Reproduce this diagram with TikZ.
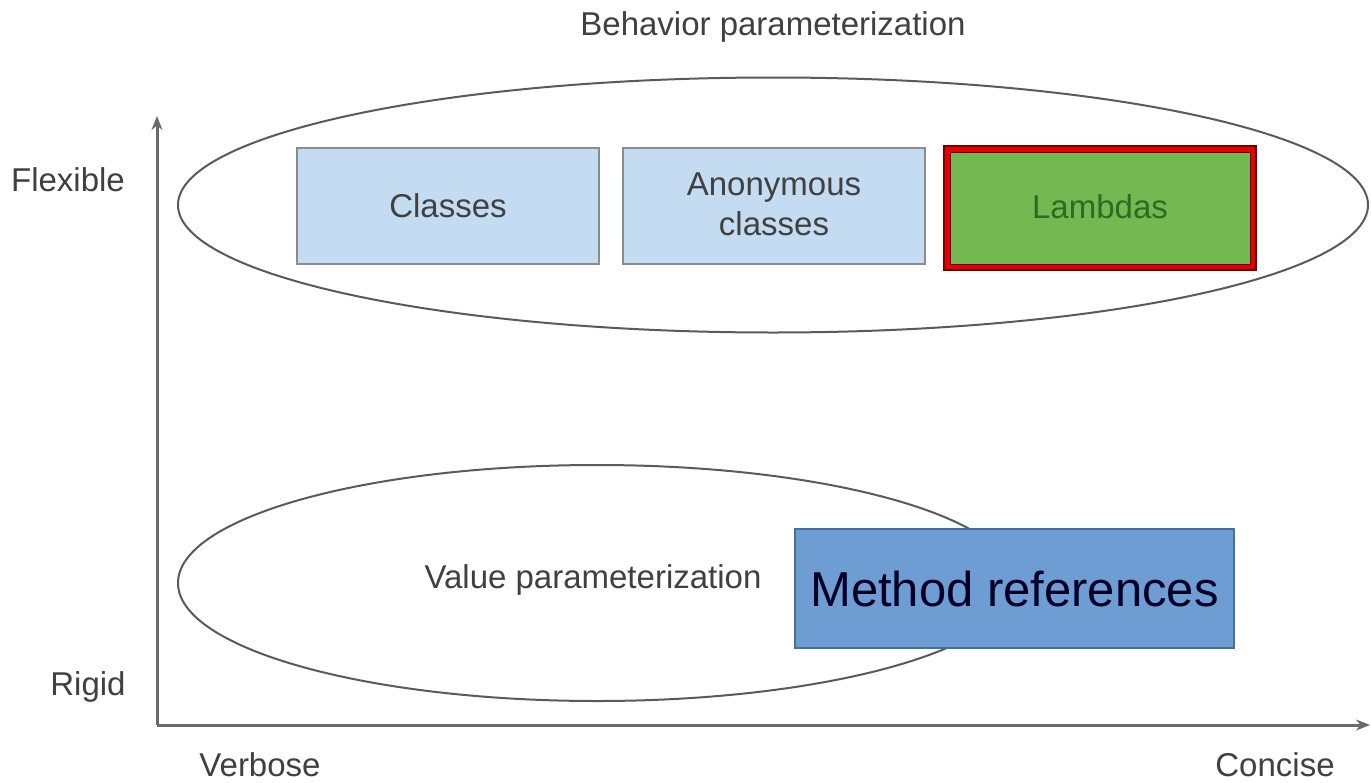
\documentclass[tikz,border=0pt]{standalone}
\usepackage{fontspec}
\setmainfont{Liberation Sans}
\usetikzlibrary{shapes.geometric,arrows.meta,calc}
\definecolor{labelgray}{HTML}{404040}
\definecolor{axisgray}{HTML}{6A6A6A}
\definecolor{ringgray}{HTML}{5A5A5A}
\definecolor{paleblue}{HTML}{C3DCF2}
\definecolor{paleedge}{HTML}{8C8C8C}
\definecolor{midblue}{HTML}{6E9DD3}
\definecolor{midedge}{HTML}{41719C}
\definecolor{leafgreen}{HTML}{74B852}
\definecolor{darkgreen}{HTML}{2E6A22}
\definecolor{hotred}{HTML}{E80000}
\definecolor{deepred}{HTML}{700000}
\tikzset{
  lbl/.style={text=labelgray, font=\fontsize{33}{40}\selectfont, inner sep=0pt},
  ring/.style={ellipse, draw=ringgray, line width=2pt, inner sep=0pt},
  softbox/.style={rectangle, draw=paleedge, fill=paleblue, line width=2pt,
    minimum width=302pt, minimum height=116pt, inner sep=0pt,
    text=labelgray, font=\fontsize{33}{40}\selectfont, align=center},
  axisline/.style={draw=axisgray, line width=3pt, -{Stealth[length=14pt,width=11pt]}},
}
\begin{document}
\begin{tikzpicture}[x=1pt, y=-1pt]
\useasboundingbox (0,0) rectangle (1371,782);

% axes
\coordinate (origin) at (157,725);
\coordinate (ytop) at (157,116);
\coordinate (xend) at (1370,725);
\draw[axisline] (origin) -- (ytop);
\draw[axisline] (origin) -- (xend);

% axis labels
\node[lbl] (behav) at (773,27) {Behavior parameterization};
\node[lbl] (flex) at (68,180) {Flexible};
\node[lbl] (rigid) at (88,687) {Rigid};
\node[lbl] (verb) at (260,765) {Verbose};
\node[lbl] (conc) at (1275,765) {Concise};

% behavior parameterization group
\node[ring, minimum width=1190pt, minimum height=255pt] (top) at (773,205) {};
\node[softbox] (classes) at (448,206) {Classes};
\node[softbox] (anon) at (774,206) {};
\node[text=labelgray, font=\fontsize{33}{40}\selectfont, align=center, inner sep=0pt]
  (anontext) at (774,204) {Anonymous\\[0pt]classes};
\node[rectangle, draw=hotred, line width=6pt, fill=leafgreen, outer sep=0pt,
      minimum width=306pt, minimum height=118pt, inner sep=0pt,
      text=darkgreen, font=\fontsize{33}{40}\selectfont] (lambda) at (1100,208) {\raisebox{3pt}{Lambdas}};
\draw[deepred, line width=1.2pt] ($(lambda.north west)+(-3,-3)$) rectangle ($(lambda.south east)+(3,3)$);
\draw[deepred, line width=1pt] ($(lambda.north west)+(3,3)$) rectangle ($(lambda.south east)+(-3,-3)$);

% value parameterization group
\node[ring, minimum width=838pt, minimum height=236pt] (bottom) at (597,583) {};
\node[lbl] (value) at (593,580) {Value parameterization};
\node[rectangle, draw=midedge, fill=midblue, line width=2pt,
      minimum width=439pt, minimum height=119pt, inner sep=0pt,
      text=black!85!blue, font=\fontsize{49}{56}\selectfont] (mref) at (1014.5,588.5) {Method references};
\end{tikzpicture}
\end{document}
